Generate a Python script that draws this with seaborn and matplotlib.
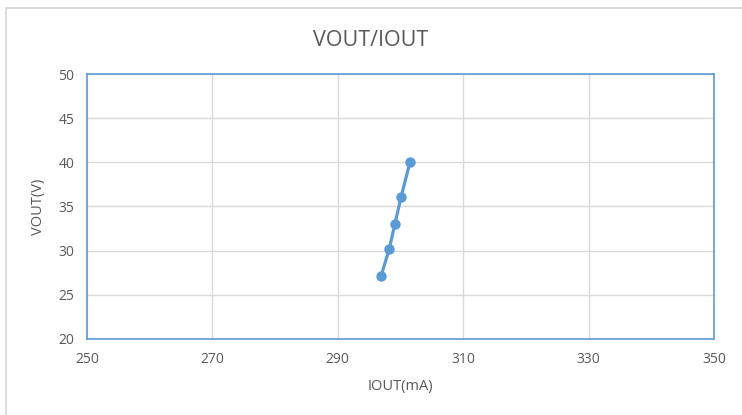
import matplotlib
matplotlib.use("Agg")
import matplotlib.pyplot as plt
import seaborn as sns
import pandas as pd

iout = [296.9, 298.2, 299.1, 300.1, 301.5]
vout = [27.1, 30.2, 33.0, 36.1, 40.0]
xticks = [250, 270, 290, 310, 330, 350]
yticks = [20, 25, 30, 35, 40, 45, 50]

sns.set_theme(style="white")
plt.rcParams['font.family'] = ['Open Sans', 'DejaVu Sans']

df = pd.DataFrame({"IOUT(mA)": iout, "VOUT(V)": vout})

fig = plt.figure(figsize=(7.42, 4.15), dpi=100)
ax = fig.add_axes([87/742, 1-339/415, (714-87)/742, (339-74)/415])
fig.patches.append(plt.Rectangle((6/742, -0.05), 1.1, 1-8/415+0.05, transform=fig.transFigure,
                                 fill=False, edgecolor="#d9d9d9", linewidth=1.3))

sns.lineplot(data=df, x="IOUT(mA)", y="VOUT(V)", ax=ax, color="#5b9bd5",
             linewidth=2.3, marker="o", markersize=7.5, markeredgewidth=0, sort=False)

ax.set_xlim(250, 350)
ax.set_ylim(20, 50)
ax.set_xticks(xticks)
ax.set_yticks(yticks)
ax.grid(True, color="#d9d9d9", linewidth=1)
ax.set_axisbelow(True)
for s in ax.spines.values():
    s.set_color("#5b9bd5")
    s.set_linewidth(1.2)
ax.tick_params(axis="both", colors="#595959", labelsize=10, length=0, pad=9)
ax.set_xlabel("IOUT(mA)", color="#595959", fontsize=10.5, labelpad=9)
ax.set_ylabel("VOUT(V)", color="#595959", fontsize=10.5, labelpad=9)
fig.text(0.5, 1-40/415, "VOUT/IOUT", ha="center", va="center", color="#595959", fontsize=15.5)

fig.savefig("out.png", dpi=100)
